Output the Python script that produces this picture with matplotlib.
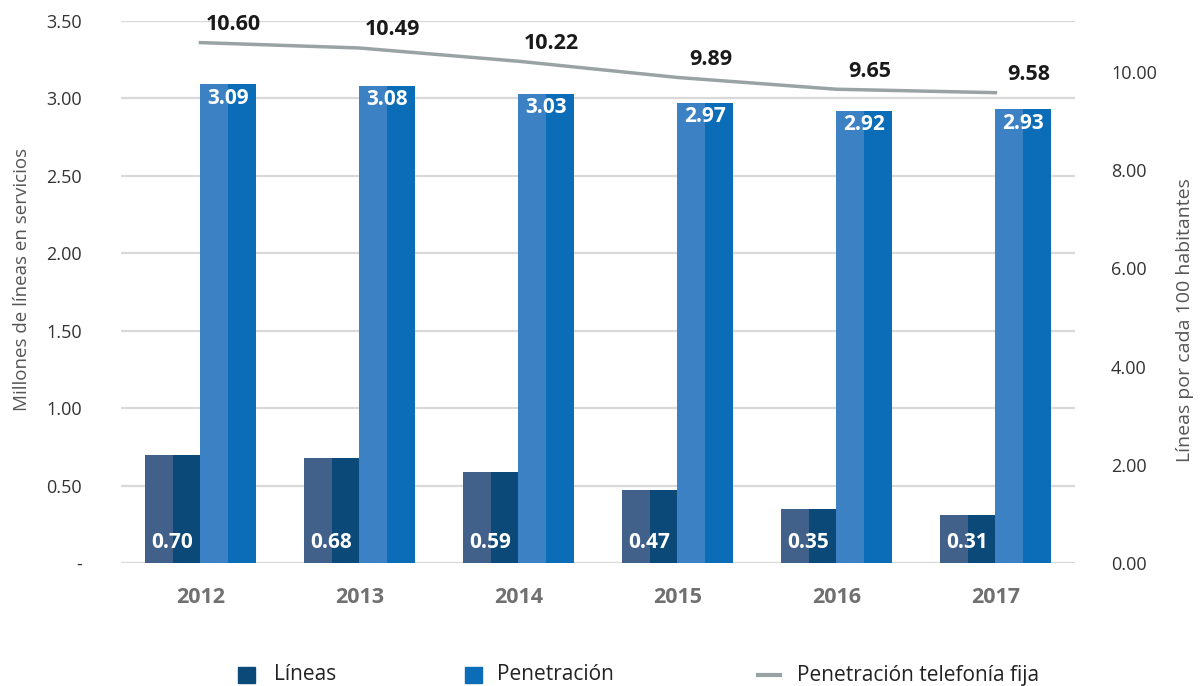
import matplotlib
matplotlib.use("Agg")
import matplotlib.pyplot as plt
from matplotlib.patches import Rectangle
from matplotlib.lines import Line2D
import numpy as np

plt.rcParams['font.family'] = ['Open Sans', 'DejaVu Sans']

years = ['2012', '2013', '2014', '2015', '2016', '2017']
lineas = [0.70, 0.68, 0.59, 0.47, 0.35, 0.31]
penetracion = [3.09, 3.08, 3.03, 2.97, 2.92, 2.93]
fija = [10.60, 10.49, 10.22, 9.89, 9.65, 9.58]

left_ticks = [0, 0.5, 1.0, 1.5, 2.0, 2.5, 3.0, 3.5]
right_ticks = [0, 2, 4, 6, 8, 10]

# two-tone fills: lighter left half, darker right half
lin_light, lin_dark = '#41618a', '#0b4a78'
pen_light, pen_dark = '#3c81c4', '#0b6cb8'
line_col = '#9aa3a3'
grid_col = '#d9d9d9'
text_col = '#333333'

W, H = 1201, 686
fig = plt.figure(figsize=(W / 100, H / 100), dpi=100)
ax = fig.add_axes([0.1007, 0.1793, 0.7943, 0.7901])
ax2 = ax.twinx()

x = np.arange(len(years))
w = 0.35
half = w / 2

for xi, v in zip(x, lineas):
    ax.bar(xi - w + half / 2, v, half, color=lin_light, zorder=3)
    ax.bar(xi - half / 2, v, half, color=lin_dark, zorder=3)
    ax.annotate(f'{v:.2f}', (xi - half, 0), xytext=(0, 15), textcoords='offset points',
                ha='center', va='center', color='white', fontsize=15,
                fontweight='bold', zorder=5)

for xi, v in zip(x, penetracion):
    ax.bar(xi + half / 2, v, half, color=pen_light, zorder=3)
    ax.bar(xi + w - half / 2, v, half, color=pen_dark, zorder=3)
    ax.annotate(f'{v:.2f}', (xi + half, v), xytext=(0, -10), textcoords='offset points',
                ha='center', va='center', color='white', fontsize=15,
                fontweight='bold', zorder=5)

ax.set_xlim(-0.5, len(years) - 0.5)
ax.set_ylim(0, 3.5)
ax.set_yticks(left_ticks)
ax.set_yticklabels(['-'] + [f'{t:.2f}' for t in left_ticks[1:]])
ax.yaxis.grid(True, color=grid_col, linewidth=1.6, zorder=0)
ax.set_axisbelow(True)
ax.set_xticks(x)
ax.set_xticklabels(years, fontsize=15.5, fontweight='bold', color='#707070')
ax.tick_params(axis='x', length=0, pad=17)
ax.tick_params(axis='y', length=0, pad=28, labelsize=13, labelcolor=text_col)
ax.set_ylabel('Millones de líneas en servicios', fontsize=13.5, color='#555555')
ax.yaxis.set_label_coords(-0.094, 0.523)

ax2.plot(x, fija, color=line_col, linewidth=2.5, zorder=4)
for xi, v in zip(x, fija):
    ax2.annotate(f'{v:.2f}', (xi, v), xytext=(24, 13), textcoords='offset points',
                 ha='center', va='center', color='#1a1a1a', fontsize=15.5,
                 fontweight='bold')
ax2.set_ylim(0, 11.04)
ax2.set_yticks(right_ticks)
ax2.set_yticklabels([f'{t:.2f}' for t in right_ticks])
ax2.tick_params(axis='y', length=0, pad=26, labelsize=13, labelcolor=text_col)
ax2.set_ylabel('Líneas por cada 100 habitantes', fontsize=14, color='#555555')
ax2.yaxis.set_label_coords(1.106, 0.448)

for a in (ax, ax2):
    for s in a.spines.values():
        s.set_visible(False)

# legend row drawn in figure pixels
ly = H - 675
fig.patches.append(Rectangle((238 / W, (ly - 8) / H), 17 / W, 16 / H,
                             transform=fig.transFigure, color=lin_dark))
fig.patches.append(Rectangle((465 / W, (ly - 8) / H), 17 / W, 16 / H,
                             transform=fig.transFigure, color=pen_dark))
fig.lines.append(Line2D([758 / W, 780 / W], [ly / H, ly / H], transform=fig.transFigure,
                        color=line_col, linewidth=3))
for tx, label in [(274, 'Líneas'), (497, 'Penetración'), (797, 'Penetración telefonía fija')]:
    fig.text(tx / W, ly / H, label, ha='left', va='center', fontsize=15, color='#222222')

fig.savefig('out.png', dpi=100, facecolor='white')
